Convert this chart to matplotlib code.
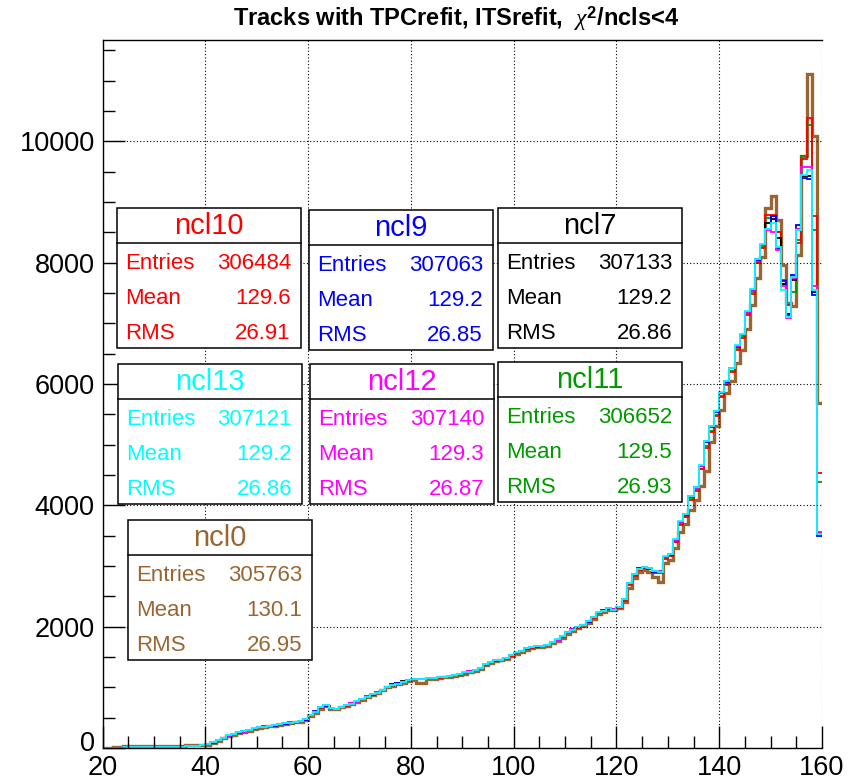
import numpy as np
import matplotlib
matplotlib.use('Agg')
import matplotlib.pyplot as plt
from matplotlib.patches import Rectangle
from matplotlib.ticker import MultipleLocator, FuncFormatter

plt.rcParams['font.family'] = ['Liberation Sans', 'DejaVu Sans']
plt.rcParams['mathtext.fontset'] = 'custom'
plt.rcParams['mathtext.rm'] = 'Liberation Sans:bold'
plt.rcParams['mathtext.bf'] = 'Liberation Sans:bold'
plt.rcParams['mathtext.it'] = 'Liberation Serif:italic'

# bin edges: 1-cluster wide bins from 20 to 160
bin_lo, bin_hi = 20, 160

# counts per bin (20..159) for each cluster cut
ncl13 = [4, 5, 6, 7, 9, 11, 12, 13, 15, 15, 16, 15, 17, 18, 21, 24, 30, 36, 41, 46,
         62, 92, 133, 172, 207, 228, 257, 272, 293, 322, 342, 352, 367, 372, 388, 407, 418, 432, 438, 475,
         548, 598, 668, 702, 655, 648, 678, 708, 732, 768, 812, 848, 884, 912, 962, 1012, 1038, 1063, 1082, 1115,
         1142, 1138, 1145, 1148, 1158, 1162, 1178, 1182, 1205, 1212, 1245, 1258, 1288, 1318, 1385, 1418, 1448, 1452, 1485, 1528,
         1575, 1598, 1645, 1658, 1680, 1682, 1705, 1748, 1790, 1838, 1905, 1952, 1995, 2028, 2090, 2152, 2235, 2262, 2305, 2282,
         2325, 2455, 2725, 2865, 2955, 2985, 2965, 2915, 2905, 3160, 3195, 3440, 3740, 3855, 4160, 4295, 4660, 5060, 5310, 5560,
         5860, 6050, 6270, 6640, 6830, 7200, 7560, 8060, 8300, 8560, 8650, 8260, 7550, 7110, 7770, 8540, 9440, 9520, 7550, 3530]

ncl9 = [5, 4, 6, 8, 10, 13, 11, 14, 14, 16, 15, 17, 16, 19, 20, 26, 29, 34, 40, 44,
        58, 88, 136, 168, 204, 232, 253, 268, 297, 318, 338, 357, 363, 368, 392, 403, 422, 428, 442, 468,
        542, 602, 672, 698, 662, 642, 682, 703, 738, 762, 808, 852, 878, 918, 958, 1008, 1042, 1068, 1088, 1120,
        1138, 1142, 1138, 1152, 1152, 1168, 1172, 1188, 1198, 1218, 1238, 1262, 1282, 1322, 1378, 1422, 1442, 1458, 1478, 1532,
        1568, 1602, 1638, 1662, 1672, 1688, 1698, 1752, 1782, 1842, 1910, 1958, 1988, 2032, 2082, 2158, 2228, 2268, 2298, 2288,
        2318, 2448, 2718, 2870, 2960, 2978, 2958, 2908, 2912, 3148, 3188, 3428, 3730, 3845, 4145, 4285, 4645, 5045, 5295, 5545,
        5845, 6035, 6255, 6615, 6805, 7185, 7545, 8045, 8285, 8560, 8770, 8240, 7700, 7130, 7800, 8620, 9390, 9380, 7470, 3500]

ncl7 = [6, 5, 7, 8, 10, 12, 13, 14, 15, 15, 16, 16, 17, 18, 20, 25, 31, 35, 39, 45,
        60, 90, 135, 172, 205, 230, 258, 275, 295, 320, 340, 355, 362, 372, 390, 405, 420, 430, 440, 470,
        545, 600, 670, 700, 662, 645, 680, 705, 735, 765, 810, 852, 880, 915, 960, 1010, 1050, 1075, 1105, 1115,
        1140, 1145, 1140, 1150, 1155, 1165, 1175, 1185, 1200, 1215, 1240, 1260, 1285, 1320, 1380, 1420, 1450, 1458, 1485, 1535,
        1570, 1600, 1640, 1660, 1675, 1685, 1700, 1750, 1785, 1840, 1910, 1955, 1990, 2030, 2085, 2155, 2230, 2265, 2300, 2285,
        2320, 2450, 2720, 2860, 2950, 2980, 2960, 2910, 2910, 3150, 3190, 3430, 3730, 3850, 4150, 4300, 4650, 5050, 5300, 5550,
        5850, 6040, 6260, 6620, 6810, 7190, 7550, 8050, 8290, 8650, 8720, 8400, 7650, 7150, 7720, 8560, 9430, 9420, 7520, 3540]

ncl12 = [5, 6, 6, 8, 10, 12, 12, 14, 14, 15, 15, 16, 16, 18, 21, 25, 30, 35, 40, 46,
         61, 91, 134, 170, 205, 233, 256, 270, 296, 320, 341, 356, 366, 371, 390, 406, 421, 432, 440, 472,
         546, 601, 672, 705, 658, 646, 682, 706, 737, 766, 812, 850, 882, 916, 962, 1012, 1040, 1060, 1086, 1110,
         1140, 1140, 1142, 1150, 1156, 1166, 1176, 1186, 1200, 1216, 1242, 1262, 1285, 1322, 1382, 1422, 1445, 1455, 1480, 1530,
         1570, 1600, 1642, 1662, 1676, 1686, 1702, 1752, 1786, 1842, 1900, 1956, 1992, 2032, 2086, 2156, 2232, 2266, 2302, 2286,
         2322, 2452, 2722, 2862, 2952, 2982, 2962, 2912, 2912, 3152, 3192, 3432, 3732, 3852, 4152, 4292, 4652, 5052, 5302, 5552,
         5852, 6042, 6262, 6622, 6812, 7192, 7552, 8052, 8292, 8540, 8510, 8200, 7620, 7080, 7740, 8560, 9580, 9580, 7610, 3560]

ncl10 = [5, 5, 6, 8, 10, 12, 12, 14, 14, 15, 15, 16, 16, 18, 20, 25, 30, 35, 40, 45,
         58, 88, 132, 168, 202, 228, 252, 268, 292, 318, 338, 352, 362, 368, 386, 402, 416, 428, 438, 465,
         538, 595, 665, 700, 665, 640, 675, 700, 728, 760, 800, 842, 874, 908, 952, 1000, 1032, 1055, 1080, 1105,
         1135, 1135, 1138, 1146, 1150, 1160, 1170, 1180, 1195, 1210, 1232, 1255, 1280, 1312, 1370, 1412, 1440, 1450, 1475, 1522,
         1560, 1592, 1632, 1652, 1668, 1678, 1692, 1740, 1775, 1830, 1890, 1945, 1982, 2022, 2075, 2145, 2220, 2258, 2292, 2280,
         2310, 2430, 2690, 2840, 2935, 2970, 2950, 2890, 2890, 3120, 3160, 3390, 3680, 3800, 4090, 4240, 4590, 4950, 5200, 5470,
         5780, 5980, 6200, 6560, 6760, 7130, 7490, 7990, 8240, 8780, 8780, 8500, 7720, 7300, 7760, 8330, 9700, 10380, 8760, 4530]

ncl11 = [5, 5, 6, 8, 10, 12, 12, 14, 14, 15, 15, 16, 16, 18, 20, 25, 30, 35, 40, 45,
         58, 88, 133, 168, 203, 229, 253, 268, 293, 318, 339, 360, 370, 375, 392, 405, 420, 432, 440, 468,
         540, 597, 667, 698, 662, 642, 676, 702, 730, 762, 805, 845, 876, 910, 955, 1005, 1035, 1058, 1082, 1108,
         1138, 1138, 1140, 1148, 1152, 1162, 1172, 1182, 1198, 1212, 1236, 1258, 1282, 1315, 1372, 1415, 1442, 1452, 1478, 1525,
         1565, 1595, 1635, 1655, 1670, 1680, 1695, 1742, 1778, 1832, 1892, 1948, 1985, 2025, 2078, 2148, 2222, 2260, 2295, 2282,
         2312, 2435, 2700, 2845, 2940, 2972, 2952, 2895, 2895, 3130, 3170, 3400, 3690, 3810, 4100, 4250, 4600, 4970, 5220, 5490,
         5800, 6000, 6220, 6580, 6780, 7150, 7510, 8010, 8260, 8730, 8760, 8510, 7650, 7150, 7520, 8380, 9750, 10260, 8540, 4380]

ncl0 = [6, 8, 10, 15, 27, 30, 33, 33, 33, 33, 33, 33, 33, 33, 33, 40, 45, 45, 48, 50,
        55, 80, 120, 160, 195, 222, 248, 265, 288, 312, 332, 350, 360, 368, 384, 400, 414, 425, 435, 455,
        520, 580, 650, 690, 650, 640, 670, 695, 725, 755, 795, 835, 870, 905, 950, 1000, 1030, 1050, 1075, 1100,
        1125, 1070, 1070, 1130, 1145, 1160, 1165, 1175, 1190, 1205, 1225, 1245, 1270, 1305, 1360, 1405, 1435, 1448, 1470, 1515,
        1550, 1580, 1620, 1645, 1660, 1670, 1685, 1730, 1765, 1815, 1875, 1930, 1970, 2010, 2060, 2130, 2205, 2245, 2280, 2270,
        2300, 2400, 2640, 2800, 2900, 2940, 2900, 2820, 2740, 3050, 3100, 3300, 3560, 3700, 3920, 4090, 4310, 4560, 5050, 5300,
        5570, 5850, 6050, 6340, 6560, 6900, 7300, 7750, 8100, 8900, 9090, 8705, 7960, 7330, 7280, 8120, 9750, 11113, 10080, 5690]

# stat box contents
names = ['ncl10', 'ncl9', 'ncl7', 'ncl13', 'ncl12', 'ncl11', 'ncl0']
entries = ['306484', '307063', '307133', '307121', '307140', '306652', '305763']
means = ['129.6', '129.2', '129.2', '129.2', '129.3', '129.5', '130.1']
rmss = ['26.91', '26.85', '26.86', '26.86', '26.87', '26.93', '26.95']

colors = {'ncl10': '#ff0000', 'ncl9': '#0000ff', 'ncl7': '#000000', 'ncl13': '#00ffff',
          'ncl12': '#ff00ff', 'ncl11': '#009900', 'ncl0': '#996633'}
hists = {'ncl10': ncl10, 'ncl9': ncl9, 'ncl7': ncl7, 'ncl13': ncl13,
         'ncl12': ncl12, 'ncl11': ncl11, 'ncl0': ncl0}

W, H = 851, 780
fig = plt.figure(figsize=(W / 100, H / 100), dpi=100)
ax = fig.add_axes([102.5 / W, 1 - 748 / H, (822 - 102.5) / W, (748 - 40) / H])

edges = np.arange(bin_lo, bin_hi + 1)
draw_order = ['ncl0', 'ncl11', 'ncl10', 'ncl7', 'ncl9', 'ncl12', 'ncl13']
for name in draw_order:
    lw = 2.4 if name == 'ncl0' else 1.3
    ax.stairs(hists[name], edges, baseline=None, color=colors[name], lw=lw)

ymax = 1.05 * max(max(h) for h in hists.values())
ax.set_xlim(bin_lo, bin_hi)
ax.set_ylim(0, ymax)

ax.xaxis.set_major_locator(MultipleLocator(20))
ax.xaxis.set_minor_locator(MultipleLocator(5))
ax.yaxis.set_major_locator(MultipleLocator(2000))
ax.yaxis.set_minor_locator(MultipleLocator(500))
# the zero label is placed by hand a bit higher so it clears the "20" below
ax.yaxis.set_major_formatter(FuncFormatter(lambda v, p: '' if v == 0 else f'{v:.0f}'))
ax.tick_params(which='both', direction='in', width=1.0, color='black')
ax.tick_params(which='major', length=16)
ax.tick_params(which='minor', length=8.5)
ax.tick_params(axis='x', labelsize=19.5, pad=5)
ax.tick_params(axis='y', labelsize=19.5, pad=5.5)
ax.grid(True, which='major', color='black', linestyle=(0, (1, 2)), linewidth=0.8)
ax.set_axisbelow(False)
ax.spines['right'].set_visible(False)
for s in ['left', 'bottom', 'top']:
    ax.spines[s].set_linewidth(1.0)

ax.annotate('0', xy=(0, 0), xycoords='axes fraction', xytext=(-5.5, 3),
            textcoords='offset points', ha='right', va='center', fontsize=19.5)

# title
fig.text(456 / W, 1 - 19 / H, r'Tracks with TPCrefit, ITSrefit,  $\chi^{\mathbf{2}}$/ncls<4',
         ha='center', va='center', fontsize=17, fontweight='bold')

# overlay in pixel coordinates for the stat boxes
ov = fig.add_axes([0, 0, 1, 1], zorder=5)
ov.set_xlim(0, W)
ov.set_ylim(H, 0)
ov.axis('off')
ov.patch.set_alpha(0)

box_pos = [(117, 208), (309, 210), (498, 208), (118, 364), (310, 364), (498, 362), (128, 520)]
box_w, box_h, head_h, row_h = 184, 140, 35, 35
for i, name in enumerate(names):
    x0, y0 = box_pos[i]
    c = colors[name]
    ov.add_patch(Rectangle((x0, y0), box_w, box_h, facecolor='white', edgecolor='black', lw=1.1))
    ov.plot([x0, x0 + box_w], [y0 + head_h, y0 + head_h], color='black', lw=1.1)
    ov.text(x0 + box_w / 2, y0 + head_h / 2 + 1, name, ha='center', va='center',
            fontsize=21, color=c)
    rows = [('Entries', entries[i]), ('Mean', means[i]), ('RMS', rmss[i])]
    for j, (lab, val) in enumerate(rows):
        yc = y0 + head_h + row_h / 2 + j * row_h + 3
        ov.text(x0 + 8, yc, lab, ha='left', va='center', fontsize=16, color=c)
        ov.text(x0 + box_w - 10, yc, val, ha='right', va='center', fontsize=16, color=c)

plt.savefig('out.png', dpi=100)
